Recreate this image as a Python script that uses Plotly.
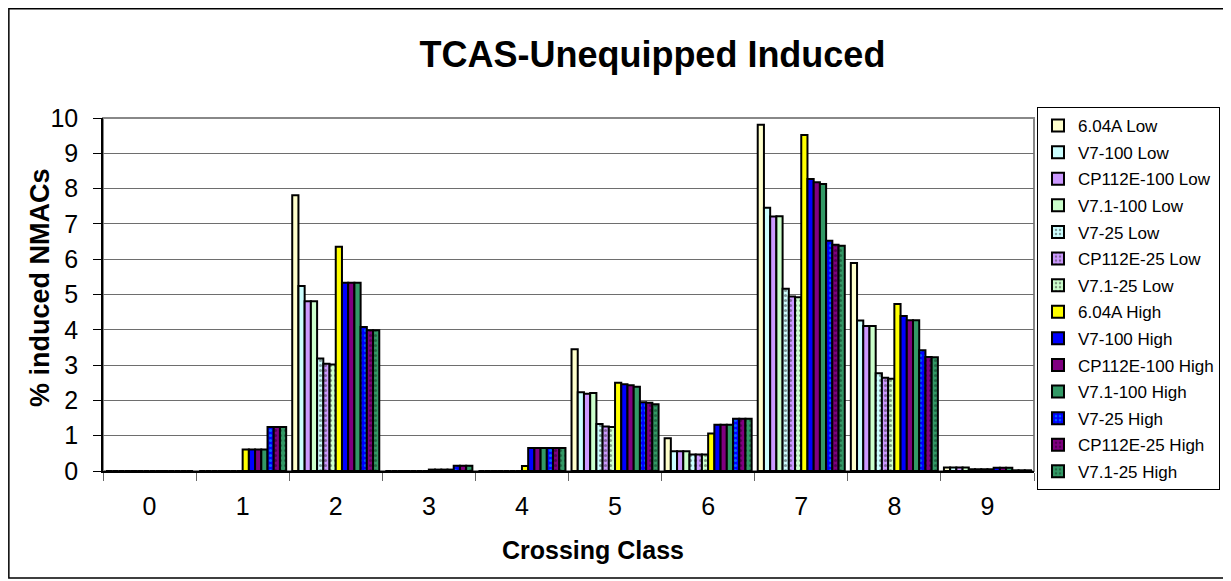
import plotly.graph_objects as go

# ---- data ----
crossing_class = ["0", "1", "2", "3", "4", "5", "6", "7", "8", "9"]

series_names = ["6.04A Low", "V7-100 Low", "CP112E-100 Low", "V7.1-100 Low",
                "V7-25 Low", "CP112E-25 Low", "V7.1-25 Low",
                "6.04A High", "V7-100 High", "CP112E-100 High", "V7.1-100 High",
                "V7-25 High", "CP112E-25 High", "V7.1-25 High"]

v604a_low     = [0, 0, 7.81, 0, 0, 3.45, 0.93, 9.81, 5.89, 0.10]
v7_100_low    = [0, 0, 5.24, 0, 0, 2.23, 0.56, 7.46, 4.26, 0.10]
cp_100_low    = [0, 0, 4.81, 0, 0, 2.19, 0.56, 7.21, 4.11, 0.10]
v71_100_low   = [0, 0, 4.81, 0, 0, 2.21, 0.56, 7.22, 4.11, 0.10]
v7_25_low     = [0, 0, 3.19, 0, 0, 1.33, 0.47, 5.16, 2.77, 0.05]
cp_25_low     = [0, 0, 3.04, 0, 0, 1.26, 0.47, 4.94, 2.64, 0.05]
v71_25_low    = [0, 0, 3.02, 0, 0, 1.25, 0.47, 4.92, 2.61, 0.05]
v604a_high    = [0, 0.61, 6.35, 0.04, 0.14, 2.50, 1.06, 9.52, 4.73, 0.05]
v7_100_high   = [0, 0.61, 5.33, 0.04, 0.65, 2.46, 1.31, 8.27, 4.39, 0.09]
cp_100_high   = [0, 0.61, 5.33, 0.04, 0.65, 2.43, 1.31, 8.18, 4.27, 0.09]
v71_100_high  = [0, 0.61, 5.33, 0.04, 0.65, 2.39, 1.31, 8.13, 4.27, 0.09]
v7_25_high    = [0, 1.25, 4.08, 0.15, 0.65, 1.95, 1.48, 6.52, 3.42, 0.02]
cp_25_high    = [0, 1.25, 3.99, 0.15, 0.65, 1.93, 1.48, 6.41, 3.23, 0.02]
v71_25_high   = [0, 1.25, 3.99, 0.15, 0.65, 1.89, 1.48, 6.38, 3.22, 0.02]

all_values = [v604a_low, v7_100_low, cp_100_low, v71_100_low, v7_25_low, cp_25_low, v71_25_low,
              v604a_high, v7_100_high, cp_100_high, v71_100_high, v7_25_high, cp_25_high, v71_25_high]

fills = ["#FFFFCC", "#CCFFFF", "#CC99FF", "#CCFFCC", "#CCFFFF", "#CC99FF", "#CCFFCC",
         "#FFFF00", "#0000FF", "#800080", "#339966", "#0000FF", "#800080", "#339966"]
# dotted pattern for the "-25" series, None = solid
dots = [None, None, None, None, "#333333", "#333333", "#333333",
        None, None, None, None, "#00CCFF", "#220022", "#113322"]

# ---- layout helpers: screen pixel -> paper (page body has an 8px margin) ----
OFF = 8
W, H = 1231 - OFF, 581 - OFF
L, R, T, B = 103 - OFF, 1035 - OFF, 118 - OFF, 471 - OFF
def px_x(p):
    return (p - OFF - L) / (R - L)
def px_y(p):
    return (B - (p - OFF)) / (B - T)

FONT = "Liberation Sans, Arial, sans-serif"

fig = go.Figure()
for i in range(len(series_names)):
    pat = dict(shape="")
    if dots[i]:
        pat = dict(shape=".", fgcolor=dots[i], size=5, solidity=0.3)
    fig.add_trace(go.Bar(
        x=crossing_class, y=all_values[i], name=series_names[i],
        marker=dict(color=fills[i], line=dict(color="black", width=2), pattern=pat),
        legendgroup=str(i)))

fig.update_layout(
    width=W, height=H,
    margin=dict(l=L, r=W - R, t=T, b=H - B),
    paper_bgcolor="white", plot_bgcolor="white",
    barmode="group", bargap=0.065, bargroupgap=0,
    font=dict(family=FONT, color="black"),
    title=dict(text="<b>TCAS-Unequipped Induced</b>", font=dict(size=36, family=FONT),
               x=px_x(653), xref="paper", y=1 - (54 - OFF) / H, yref="container",
               yanchor="middle", xanchor="center"),
    legend=dict(x=px_x(1037), y=px_y(107), xanchor="left", yanchor="top",
                bordercolor="black", borderwidth=1, font=dict(size=17, family=FONT),
                tracegroupgap=1.5, itemwidth=30, traceorder="grouped", maxheight=520),
    showlegend=True,
)

fig.update_yaxes(range=[0, 10], dtick=1, showgrid=True, gridcolor="#6E6E6E", gridwidth=1,
                 showline=True, linecolor="black", linewidth=1.5,
                 ticks="outside", ticklen=8, tickcolor="black", ticklabelstandoff=10,
                 tickfont=dict(size=25, family=FONT), zeroline=False)
fig.update_xaxes(type="category", tickson="boundaries", ticks="outside", ticklen=8,
                 tickcolor="#666666", showline=True, linecolor="black", linewidth=1.5,
                 ticklabelstandoff=12, tickfont=dict(size=25, family=FONT), showgrid=False)

# axis titles
fig.add_annotation(text="<b>% induced NMACs</b>", x=px_x(40), y=px_y(288), xref="paper", yref="paper",
                   xanchor="center", yanchor="middle", textangle=-90, showarrow=False,
                   font=dict(size=27, family=FONT))
fig.add_annotation(text="<b>Crossing Class</b>", x=px_x(594), y=px_y(550), xref="paper", yref="paper",
                   xanchor="center", yanchor="middle", showarrow=False, font=dict(size=25, family=FONT))

# grey plot frame (top/right) and outer chart border
fig.add_shape(type="rect", xref="paper", yref="paper", x0=0, x1=1, y0=0, y1=1,
              line=dict(color="#888888", width=2), layer="below")
fig.add_shape(type="rect", xref="paper", yref="paper",
              x0=px_x(OFF + 0.75), x1=px_x(1228), y0=px_y(578), y1=px_y(OFF + 0.75),
              line=dict(color="black", width=1.5))

fig.write_html("out.html")
